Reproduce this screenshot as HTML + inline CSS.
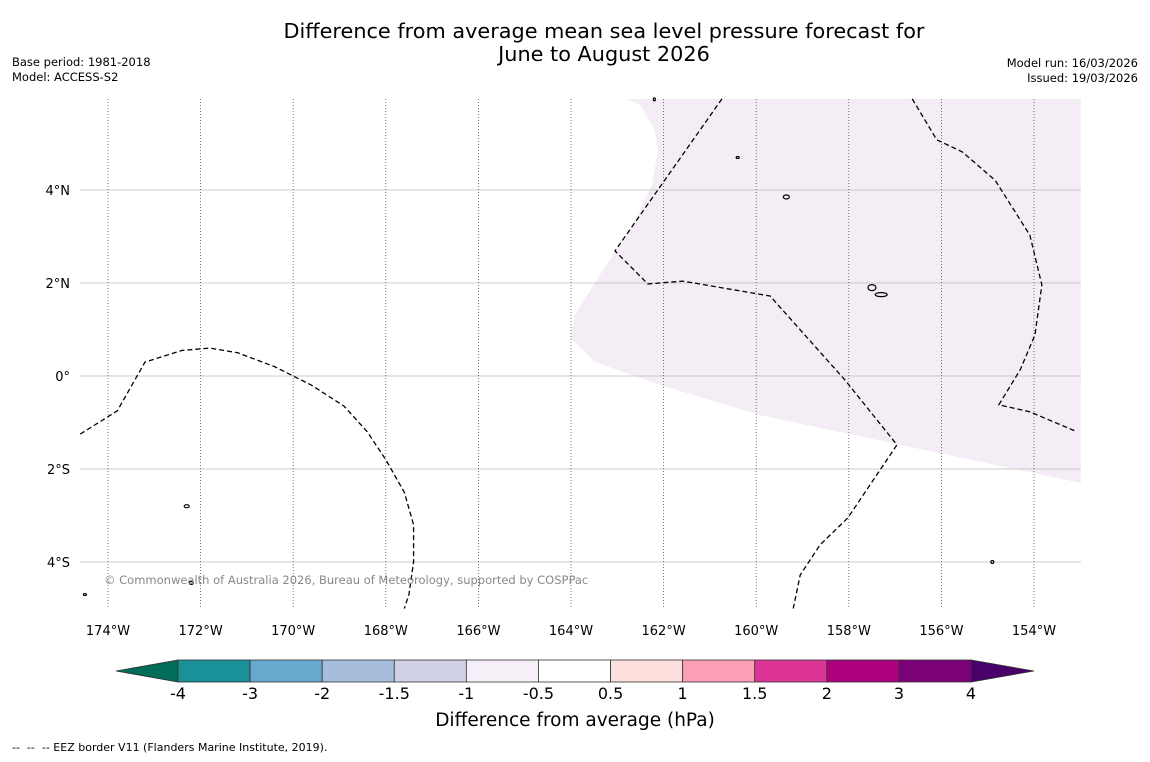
<!DOCTYPE html>
<html><head><meta charset="utf-8"><style>
body{margin:0;background:#fff;width:1150px;height:758px;overflow:hidden;font-family:"DejaVu Sans","Liberation Sans",sans-serif}
svg text{font-family:"DejaVu Sans","Liberation Sans",sans-serif}
</style></head><body>
<svg id="s" width="1150" height="758" xmlns="http://www.w3.org/2000/svg">
<text x="604" y="38" font-size="20.8" text-anchor="middle">Difference from average mean sea level pressure forecast for</text>
<text x="604" y="61" font-size="20.8" text-anchor="middle">June to August 2026</text>
<text x="12" y="66" font-size="11.5">Base period: 1981-2018</text>
<text x="12" y="81" font-size="11.5">Model: ACCESS-S2</text>
<text x="1138" y="67" font-size="11.5" text-anchor="end">Model run: 16/03/2026</text>
<text x="1138" y="82" font-size="11.5" text-anchor="end">Issued: 19/03/2026</text>
<g id="map"></g>
<g id="cb"></g>
<text x="575" y="726" font-size="18.5" text-anchor="middle">Difference from average (hPa)</text>
<text x="12" y="751" font-size="11" style="white-space:pre">--  --  -- EEZ border V11 (Flanders Marine Institute, 2019).</text>
</svg>
<script>
const lonTicks=[-174,-172,-170,-168,-166,-164,-162,-160,-158,-156,-154];
const latTicks=[4,2,0,-2,-4];
const cbLevels=["-4","-3","-2","-1.5","-1","-0.5","0.5","1","1.5","2","3","4"];
const cbColors=["#1a9099","#67a9cf","#a6bddb","#d0d1e6","#f6eff7","#ffffff","#fde0dd","#fa9fb5","#dd3497","#ae017e","#7a0177"];
const cbExtLow="#016c59", cbExtHigh="#49006a";
const shadeLonLat=[[-162.81,5.96],[-162.51,5.83],[-162.19,5.29],[-162.12,4.86],[-162.25,4.11],[-162.73,3.14],[-163.38,2.17],[-163.92,1.31],[-164.02,0.82],[-163.48,0.3],[-162.08,-0.19],[-159.92,-0.84],[-156.89,-1.48],[-152.99,-2.3],[-152.99,5.96]];
const eez1=[[-174.6,-1.25],[-173.8,-0.75],[-173.2,0.3],[-172.4,0.55],[-171.8,0.6],[-171.2,0.5],[-170.4,0.2],[-169.6,-0.2],[-168.9,-0.65],[-168.4,-1.2],[-168,-1.8],[-167.6,-2.5],[-167.4,-3.2],[-167.4,-4],[-167.5,-4.7],[-167.6,-5]];
const eez2=[[-160.74,5.96],[-163.05,2.69],[-162.34,1.98],[-161.58,2.04],[-159.7,1.72],[-158.08,-0.09],[-156.96,-1.48],[-158.02,-3.05],[-158.62,-3.63],[-159.05,-4.28],[-159.2,-5]];
const eez3=[[-156.63,5.96],[-156.1,5.08],[-155.55,4.82],[-154.84,4.21],[-154.09,3.03],[-153.83,1.96],[-153.98,0.88],[-154.3,0.13],[-154.76,-0.62],[-154.09,-0.77],[-153.07,-1.2]];
const L=80,R=1081,T=99,B=608;
const x=lon=>108+(lon+174)*(1034-108)/20;
const y=lat=>376-lat*(376-190)/4;
const NS='http://www.w3.org/2000/svg';
function mk(p,t,a){const e=document.createElementNS(NS,t);for(const k in a)e.setAttribute(k,a[k]);p.appendChild(e);return e;}
const map=document.getElementById('map');
const sh=mk(map,'polygon',{points:shadeLonLat.map(p=>x(p[0])+','+y(p[1])).join(' '),fill:'#f4edf5'});


latTicks.forEach(v=>{const g=mk(map,'line',{x1:L,x2:R,y1:y(v),y2:y(v),stroke:'#bbb','stroke-width':0.8});


const t=mk(map,'text',{x:70,y:y(v)+5,'font-size':13,'text-anchor':'end'});t.textContent=v>0?v+'°N':v<0?(-v)+'°S':'0°';

});
lonTicks.forEach(v=>{const g=mk(map,'line',{x1:x(v),x2:x(v),y1:T,y2:B,stroke:'#555','stroke-width':0.8,'stroke-dasharray':'1,2'});


const t=mk(map,'text',{x:x(v),y:635,'font-size':13,'text-anchor':'middle'});t.textContent=(-v)+'°W';

});
[eez1,eez2,eez3].forEach(a=>{const p=mk(map,'polyline',{points:a.map(q=>x(q[0])+','+y(q[1])).join(' '),fill:'none',stroke:'#000','stroke-width':1.3,'stroke-dasharray':'5,3'});

});
const islands=[[-159.35,3.85,3,2],[-157.5,1.9,4,3],[-157.3,1.75,6,2],[-172.3,-2.8,2.5,1.5],[-172.2,-4.45,2,1.5],[-160.4,4.7,1.5,1],[-154.9,-4,1.5,1.5],[-162.2,5.95,1,1.5],[-174.5,-4.7,1.5,1]];
islands.forEach(i=>{const e=mk(map,'ellipse',{cx:x(i[0]),cy:y(i[1]),rx:i[2],ry:i[3],fill:'none',stroke:'#000','stroke-width':1.2});

});
const c=mk(map,'text',{x:104,y:584,'font-size':11.5,fill:'#888'});c.textContent='© Commonwealth of Australia 2026, Bureau of Meteorology, supported by COSPPac';


const cb=document.getElementById('cb');
const cx0=178,cw=(971-178)/cbColors.length,cy0=660,ch=22;
let a=mk(cb,'polygon',{points:`${cx0},${cy0} ${cx0},${cy0+ch} 116,${cy0+ch/2}`,fill:cbExtLow,stroke:'#333','stroke-width':0.8});


a=mk(cb,'polygon',{points:`971,${cy0} 971,${cy0+ch} 1034,${cy0+ch/2}`,fill:cbExtHigh,stroke:'#333','stroke-width':0.8});


cbColors.forEach((col,i)=>{const r=mk(cb,'rect',{x:cx0+i*cw,y:cy0,width:cw,height:ch,fill:col,stroke:'#333','stroke-width':0.8});

});
cbLevels.forEach((l,i)=>{const t=mk(cb,'text',{x:cx0+i*cw,y:699,'font-size':16,'text-anchor':'middle'});t.textContent=l;

});
</script>
</body></html>
